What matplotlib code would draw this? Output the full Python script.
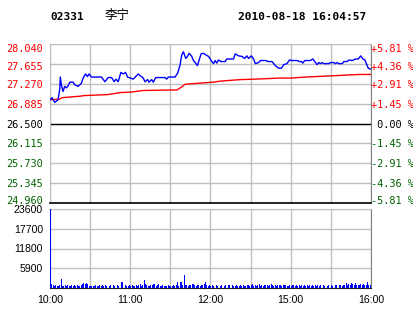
import numpy as np
import matplotlib
matplotlib.use('Agg')
import matplotlib.pyplot as plt
from matplotlib.transforms import ScaledTranslation

# minutes of trading since 10:00 (lunch break left out), 240 = 16:00
price_t = [0, 1.5, 3.5, 4.7, 6, 7.3, 7.7, 8.5, 9.75, 11, 12.2, 13.5, 14.8, 17.25,
           18.5, 21, 22.3, 23.5, 24.75, 26.5, 28, 29.25, 31, 38.5, 41, 43.5, 46,
           48, 49.3, 51, 53, 54.75, 56.5, 58, 62.25, 66, 67.7, 69.75, 71, 73, 74,
           76, 77.25, 79, 86, 87.2, 88.5, 93.5, 95.5, 97.3, 98.5, 99.75, 101.5,
           102.75, 104, 106, 107.25, 108.5, 110.25, 111.5, 113, 114.75, 116.5,
           118.5, 120.5, 122.25, 123.5, 124.7, 126, 128, 131, 132.2, 137.25,
           138.5, 141, 143.5, 145.5, 147.2, 148.5, 150.5, 152.25, 153.5, 156,
           157.3, 161.5, 163, 166, 167.25, 168.5, 171, 173, 174.75, 177.2, 179,
           181, 182.25, 184.7, 186.5, 188, 189, 190.5, 194.75, 196.5, 198, 199.7,
           201, 202.25, 203.5, 204.75, 208.5, 209.75, 212.25, 213.5, 214.7, 216,
           218.5, 219.75, 222.2, 223.5, 226, 228.5, 230.5, 232.3, 234, 235.5,
           236.5, 238, 240]
price = [26.96, 27.00, 26.91, 26.93, 26.96, 27.17, 27.40, 27.25, 27.12, 27.22,
         27.19, 27.23, 27.30, 27.30, 27.25, 27.22, 27.25, 27.28, 27.38, 27.46,
         27.41, 27.46, 27.40, 27.40, 27.31, 27.39, 27.39, 27.31, 27.36, 27.31,
         27.49, 27.46, 27.49, 27.40, 27.36, 27.46, 27.42, 27.38, 27.31, 27.35,
         27.30, 27.35, 27.30, 27.39, 27.39, 27.36, 27.40, 27.40, 27.48, 27.64,
         27.83, 27.89, 27.76, 27.80, 27.86, 27.80, 27.72, 27.68, 27.62, 27.73,
         27.85, 27.86, 27.83, 27.80, 27.72, 27.66, 27.72, 27.67, 27.73, 27.70,
         27.70, 27.75, 27.75, 27.85, 27.81, 27.80, 27.76, 27.81, 27.76, 27.81,
         27.75, 27.66, 27.68, 27.72, 27.72, 27.70, 27.70, 27.66, 27.62, 27.57,
         27.57, 27.64, 27.66, 27.73, 27.72, 27.72, 27.72, 27.70, 27.70, 27.67,
         27.72, 27.72, 27.75, 27.70, 27.64, 27.68, 27.66, 27.68, 27.66, 27.66,
         27.68, 27.68, 27.66, 27.68, 27.66, 27.66, 27.70, 27.70, 27.73, 27.72,
         27.75, 27.75, 27.81, 27.75, 27.73, 27.66, 27.57, 27.55]

avg_t = [0, 7, 9, 23, 25, 43, 53, 61, 70, 95, 98, 101, 116, 122, 127, 142, 154,
         172, 180, 191, 216, 231, 240]
avg_price = [26.96, 26.97, 27.00, 27.03, 27.04, 27.06, 27.10, 27.11, 27.14,
             27.15, 27.20, 27.26, 27.29, 27.30, 27.32, 27.35, 27.36, 27.38,
             27.38, 27.40, 27.43, 27.45, 27.45]

volume = [23600, 1100, 900, 700, 800, 600, 700, 900, 2800, 700,
          600, 800, 700, 900, 600, 700, 800, 600, 900, 700,
          800, 600, 700, 900, 1100, 1500, 1300, 1600, 1200, 700,
          600, 500, 700, 600, 800, 600, 700, 900, 600, 800,
          700, 900, 600, 800, 700, 1000, 1300, 800, 700, 600,
          800, 700, 900, 1900, 1800, 700, 800, 600, 700, 900,
          600, 800, 700, 600, 900, 700, 800, 1200, 700, 900,
          2300, 1100, 800, 700, 600, 900, 800, 1100, 1200, 700,
          800, 1100, 700, 600, 800, 700, 600, 700, 800, 600,
          700, 600, 800, 700, 900, 1800, 700, 1900, 1900, 900,
          3800, 1000, 800, 700, 900, 800, 1200, 1100, 800, 700,
          800, 900, 700, 800, 900, 1100, 1700, 800, 700, 900,
          700, 800, 600, 700, 800, 600, 900, 700, 800, 700,
          600, 800, 700, 900, 1000, 1700, 800, 700, 600, 800,
          700, 600, 800, 700, 900, 600, 700, 800, 1000, 700,
          800, 1100, 700, 900, 600, 800, 1100, 700, 800, 700,
          900, 800, 1000, 700, 800, 1100, 900, 700, 800, 600,
          900, 1000, 800, 700, 900, 1000, 800, 700, 600, 800,
          700, 900, 800, 700, 900, 600, 800, 700, 900, 700,
          800, 600, 900, 700, 800, 700, 900, 600, 800, 700,
          900, 700, 800, 600, 900, 700, 800, 700, 900, 1800,
          800, 700, 900, 800, 1000, 700, 800, 900, 700, 1000,
          800, 1400, 900, 1300, 800, 1500, 1100, 900, 1400, 800,
          1000, 800, 1300, 900, 1100, 800, 1000, 1700, 900, 800,
          1300]

prev_close = 26.5
price_ticks = [24.960, 25.345, 25.730, 26.115, 26.500, 26.885, 27.270, 27.655, 28.040]
pct_labels = ['-5.81 %', '-4.36 %', '-2.91 %', '-1.45 %', ' 0.00 %',
              '+1.45 %', '+2.91 %', '+4.36 %', '+5.81 %']
vol_ticks = [5900, 11800, 17700, 23600]
time_ticks = [0, 60, 120, 180, 240]
time_labels = ['10:00', '11:00', '12:00', '15:00', '16:00']

RED = '#ff0000'
GREEN = '#006400'
GRID = '#c0c0c0'
EDGE = '#808080'
mono = 'DejaVu Sans Mono'
sans = 'Liberation Sans'

fig = plt.figure(figsize=(4.14, 3.14), dpi=100)
fig.patch.set_facecolor('white')


def shift(label, px):
    # move a tick label up (+) or down (-) by some pixels
    label.set_transform(label.get_transform() +
                        ScaledTranslation(0, px / 100.0, fig.dpi_scale_trans))


def label_color(p):
    if abs(p - prev_close) < 1e-6:
        return 'black'
    return RED if p > prev_close else GREEN


W, H = 414.0, 314.0
ax = fig.add_axes([50 / W, 1 - 203 / H, 321 / W, 159 / H])
axv = fig.add_axes([50 / W, 1 - 288 / H, 321 / W, 79 / H])

# price panel
ax.plot(avg_t, avg_price, color=RED, lw=1.0, zorder=3)
ax.plot(price_t, price, color='#0000ff', lw=1.0, zorder=4)
ax.axhline(prev_close, color='black', lw=1.0, zorder=2)
ax.set_xlim(0, 240)
ax.set_ylim(price_ticks[0], price_ticks[-1])
ax.set_xticks(np.arange(0, 241, 30))
ax.set_xticklabels([])
ax.set_yticks(price_ticks)
ax.set_yticklabels(['%.3f' % p for p in price_ticks], fontfamily=mono, fontsize=7.4)
ax.grid(True, color=GRID, lw=1.0)
ax.tick_params(length=0, pad=5)
ax.spines['top'].set_color(GRID)
ax.spines['left'].set_color(GRID)
ax.spines['right'].set_color(EDGE)
ax.spines['bottom'].set_color('black')
ax.spines['bottom'].set_linewidth(1.2)

axr = ax.twinx()
axr.set_ylim(ax.get_ylim())
axr.set_yticks(price_ticks)
axr.set_yticklabels(pct_labels, fontfamily=mono, fontsize=7.4)
axr.tick_params(length=0, pad=0)
for s in axr.spines.values():
    s.set_visible(False)

for a in (ax, axr):
    labs = a.get_yticklabels()
    for lab, p in zip(labs, price_ticks):
        lab.set_color(label_color(p))
    shift(labs[0], 3)
    shift(labs[-1], -4)
    shift(labs[-2], -2)

# volume panel
axv.bar(np.arange(len(volume)), volume, width=0.7, align='edge',
        color='#0000ff', lw=0, zorder=3)
axv.set_xlim(0, 240)
axv.set_ylim(0, 23600)
axv.set_xticks(time_ticks)
axv.set_xticks(np.arange(30, 240, 60), minor=True)
axv.set_xticklabels(time_labels, fontfamily=sans, fontsize=7.6)
axv.set_yticks(vol_ticks)
axv.set_yticklabels([str(v) for v in vol_ticks], fontfamily=sans, fontsize=7.6)
for lab in axv.get_yticklabels():
    shift(lab, -3)
axv.grid(True, which='both', color=GRID, lw=1.0)
axv.tick_params(which='both', length=0, pad=5)
axv.spines['top'].set_color(GRID)
axv.spines['left'].set_color(GRID)
axv.spines['left'].set_zorder(1)
axv.spines['right'].set_color(EDGE)
axv.spines['bottom'].set_color('#202020')

# header
fig.text(50 / W, 1 - 17 / H, '02331', fontfamily=mono, fontweight='bold',
         fontsize=8, va='center', ha='left')
fig.text(105 / W, 1 - 16 / H, '李宁', fontfamily=['Noto Sans CJK SC', 'DejaVu Sans'],
         fontsize=9, va='center', ha='left')
fig.text(238 / W, 1 - 17 / H, '2010-08-18 16:04:57', fontfamily=mono,
         fontweight='bold', fontsize=8.1, va='center', ha='left')

fig.savefig('out.png', dpi=100, facecolor='white')
